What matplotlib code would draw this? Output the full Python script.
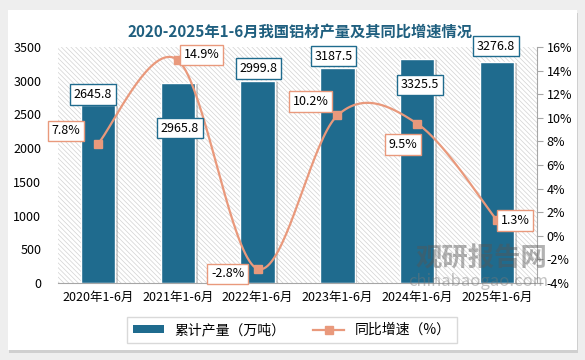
import numpy as np
import matplotlib
matplotlib.use("Agg")
import matplotlib.pyplot as plt
import matplotlib.patheffects as pe
from matplotlib.patches import Rectangle
from matplotlib.lines import Line2D
from matplotlib.ticker import FuncFormatter

plt.rcParams["font.family"] = ["Noto Sans CJK SC", "DejaVu Sans"]
plt.rcParams["hatch.linewidth"] = 0.5
plt.rcParams["hatch.color"] = "#d2d2d2"

# data
periods = ["2020年1-6月", "2021年1-6月", "2022年1-6月", "2023年1-6月", "2024年1-6月", "2025年1-6月"]
output = [2645.8, 2965.8, 2999.8, 3187.5, 3325.5, 3276.8]
growth = [7.8, 14.9, -2.8, 10.2, 9.5, 1.3]

# label offsets in pixels (layout only)
bar_label_off = [(-5, 10), (2, -45), (1, 12), (-4, 12), (3, -26), (-1, 16)]
pct_label_off = [(-32, 13), (24, 5), (-30, -5), (-27, 14), (-14, -21), (18, 0)]

bar_color = "#1f6b8e"
line_color = "#e9997c"

fig = plt.figure(figsize=(5.85, 3.6), dpi=100)
fig.patch.set_facecolor("#eeeeee")

# white card with soft shadow
card = Rectangle((8 / 585, 1 - 350 / 360), 569 / 585, 340 / 360, transform=fig.transFigure,
                 facecolor="white", edgecolor="none", zorder=-10,
                 path_effects=[pe.SimplePatchShadow(offset=(1, -2), shadow_rgbFace="#bbbbbb", alpha=0.6), pe.Normal()])
fig.patches.append(card)

ax = fig.add_axes([58 / 585, 1 - 283 / 360, (537 - 58) / 585, 236 / 360])
ax.set_facecolor("none")
ax.add_patch(Rectangle((0, 0), 1, 1, transform=ax.transAxes, facecolor="white",
                       edgecolor="#d2d2d2", linewidth=0, hatch="\\" * 7, zorder=0))

x = np.arange(len(periods))
bars = ax.bar(x, output, width=0.43, color=bar_color, edgecolor="white", linewidth=1.0, zorder=2)
for b in bars:
    b.set_path_effects([pe.SimplePatchShadow(offset=(2, -1), shadow_rgbFace="#777777", alpha=0.35), pe.Normal()])

ax.set_xlim(-0.5, len(periods) - 0.5)
ax.set_ylim(0, 3500)
ax.set_yticks(np.arange(0, 3501, 500))
ax.set_xticks(x)
ax.set_xticklabels(periods, fontsize=9)
ax.tick_params(axis="y", length=0, labelsize=9, pad=12)
ax.tick_params(axis="x", length=0, labelsize=9, pad=6)
for s in ["top", "right", "left"]:
    ax.spines[s].set_visible(False)
ax.spines["bottom"].set_color("#a6a6a6")

ax2 = ax.twinx()
ax2.set_ylim(-4, 16)
ax2.set_yticks(np.arange(-4, 16.1, 2))
ax2.yaxis.set_major_formatter(FuncFormatter(lambda v, p: f"{v:.0f}%"))
ax2.tick_params(axis="y", direction="out", length=4, color="#a6a6a6", labelsize=9, pad=3)
for s in ["top", "left", "bottom"]:
    ax2.spines[s].set_visible(False)
ax2.spines["right"].set_color("#a6a6a6")

# smoothed line (Bezier through the points, like spreadsheet smoothing)
px = np.array(x, dtype=float)
py = np.array(growth, dtype=float)
P = np.column_stack([px, py])
Pext = np.vstack([P[0], P, P[-1]])
curve = []
t = np.linspace(0, 1, 40)[:, None]
for i in range(len(P) - 1):
    p0, p3 = P[i], P[i + 1]
    c1 = p0 + (Pext[i + 2] - Pext[i]) / 6
    c2 = p3 - (Pext[i + 3] - Pext[i + 1]) / 6
    seg = (1 - t) ** 3 * p0 + 3 * (1 - t) ** 2 * t * c1 + 3 * (1 - t) * t ** 2 * c2 + t ** 3 * p3
    curve.append(seg)
curve = np.vstack(curve)
ax2.plot(curve[:, 0], curve[:, 1], color=line_color, linewidth=1.6, zorder=3)
ax2.plot(px, py, linestyle="none", marker="s", markersize=6, color=line_color, zorder=4)

for i, v in enumerate(output):
    ax2.annotate(f"{v:.1f}", xy=(x[i], v), xycoords=ax.transData, xytext=bar_label_off[i],
                 textcoords="offset pixels", ha="center", va="center", fontsize=9, zorder=6,
                 bbox=dict(boxstyle="square,pad=0.3", facecolor="white", edgecolor=bar_color, linewidth=1))
for i, v in enumerate(growth):
    ax2.annotate(f"{v:.1f}%", xy=(x[i], v), xytext=pct_label_off[i],
                 textcoords="offset pixels", ha="center", va="center", fontsize=9, zorder=6,
                 bbox=dict(boxstyle="square,pad=0.3", facecolor="white", edgecolor=line_color, linewidth=1))

# watermark
fig.text(481 / 585, 1 - 259 / 360, "观研报告网", fontsize=19, fontweight="bold", color="#555555",
         alpha=0.45, ha="center", va="center")
fig.text(478 / 585, 1 - 281 / 360, "chinabaogao.com", fontsize=12, color="#777777",
         alpha=0.45, ha="center", va="center")

fig.text(300 / 585, 1 - 32 / 360, "2020-2025年1-6月我国铝材产量及其同比增速情况",
         fontsize=11, fontweight="bold", color="#1f5f7f", ha="center", va="center")

handles = [Rectangle((0, 0), 1, 1, facecolor=bar_color),
           Line2D([0], [0], color=line_color, linewidth=1.6, marker="s", markersize=6)]
fig.legend(handles, ["累计产量（万吨）", "同比增速（%）"], loc="center", ncol=2,
           bbox_to_anchor=(292 / 585, 1 - 330 / 360), frameon=True, fancybox=False,
           edgecolor="#d0d0d0", fontsize=10, handlelength=2.2, columnspacing=2.0,
           borderpad=0.45, handleheight=0.5)

fig.savefig("out.png", dpi=100, facecolor=fig.get_facecolor())
